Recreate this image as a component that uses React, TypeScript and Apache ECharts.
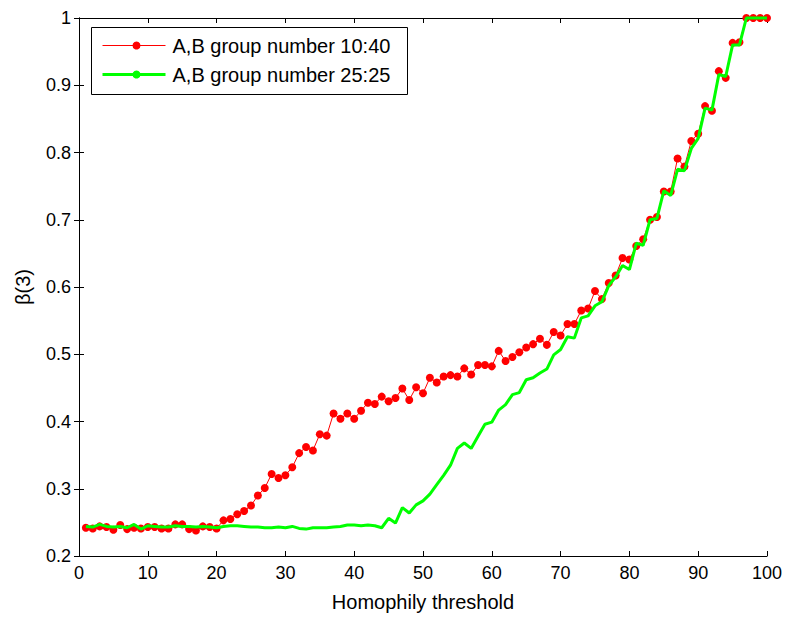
import React, { useEffect, useRef } from "react";
import * as echarts from "echarts";

const thresholds = [
  1, 2, 3, 4, 5, 6, 7, 8, 9, 10, 11, 12, 13, 14, 15, 16, 17, 18, 19, 20,
  21, 22, 23, 24, 25, 26, 27, 28, 29, 30, 31, 32, 33, 34, 35, 36, 37, 38, 39, 40,
  41, 42, 43, 44, 45, 46, 47, 48, 49, 50, 51, 52, 53, 54, 55, 56, 57, 58, 59, 60,
  61, 62, 63, 64, 65, 66, 67, 68, 69, 70, 71, 72, 73, 74, 75, 76, 77, 78, 79, 80,
  81, 82, 83, 84, 85, 86, 87, 88, 89, 90, 91, 92, 93, 94, 95, 96, 97, 98, 99, 100,
];

const group1040 = [
  0.242, 0.241, 0.244, 0.243, 0.239, 0.246, 0.24, 0.242, 0.241, 0.243,
  0.243, 0.241, 0.241, 0.247, 0.247, 0.24, 0.238, 0.244, 0.243, 0.241,
  0.253, 0.255, 0.262, 0.267, 0.275, 0.29, 0.301, 0.322, 0.316, 0.32,
  0.332, 0.353, 0.362, 0.357, 0.381, 0.379, 0.412, 0.404, 0.412, 0.404,
  0.416, 0.428, 0.426, 0.437, 0.43, 0.435, 0.449, 0.432, 0.451, 0.442,
  0.465, 0.458, 0.467, 0.469, 0.467, 0.479, 0.47, 0.484, 0.484, 0.482,
  0.505, 0.49, 0.496, 0.503, 0.51, 0.515, 0.523, 0.514, 0.533, 0.528,
  0.545, 0.545, 0.565, 0.568, 0.594, 0.582, 0.606, 0.617, 0.643, 0.641,
  0.661, 0.671, 0.7, 0.704, 0.742, 0.742, 0.791, 0.779, 0.817, 0.828,
  0.869, 0.862, 0.921, 0.911, 0.963, 0.964, 1.0, 1.0, 1.0, 1.0,
];

const group2525 = [
  0.244, 0.243, 0.247, 0.244, 0.243, 0.244, 0.242, 0.247, 0.24, 0.245,
  0.244, 0.243, 0.243, 0.245, 0.244, 0.244, 0.243, 0.244, 0.243, 0.242,
  0.244, 0.245, 0.245, 0.244, 0.243, 0.243, 0.242, 0.242, 0.243, 0.242,
  0.244, 0.241, 0.24, 0.242, 0.242, 0.242, 0.243, 0.244, 0.246, 0.246,
  0.245, 0.246, 0.245, 0.242, 0.256, 0.249, 0.272, 0.264, 0.276, 0.282,
  0.292, 0.306, 0.32, 0.335, 0.36, 0.368, 0.36, 0.378, 0.396, 0.399,
  0.417, 0.425, 0.44, 0.443, 0.462, 0.465, 0.472, 0.478, 0.499, 0.507,
  0.526, 0.524, 0.554, 0.557, 0.572, 0.578, 0.602, 0.615, 0.632, 0.626,
  0.665, 0.662, 0.7, 0.702, 0.743, 0.736, 0.775, 0.773, 0.806, 0.821,
  0.866, 0.863, 0.916, 0.913, 0.96, 0.96, 1.0, 1.0, 1.0, 1.0,
];

const seriesNames = ["A,B group number 10:40", "A,B group number 25:25"];
const FONT = "Liberation Sans, Arial, sans-serif";
const RED = "#ff0000";
const GREEN = "#00ff00";

export default function App() {
  const ref = useRef<HTMLDivElement>(null);

  useEffect(() => {
    if (!ref.current) return;
    const chart = echarts.init(ref.current, undefined, { renderer: "svg" });
    const axisLine = { show: true, lineStyle: { color: "#000", width: 1 } };
    const tick = { show: true, inside: true, length: 5, lineStyle: { color: "#000" } };
    const labelStyle = { color: "#000", fontFamily: FONT, fontSize: 18 };
    const fmtY = (v: number) => String(Number(v.toFixed(1)));

    chart.setOption({
      animation: false,
      backgroundColor: "#fff",
      grid: { left: 79, right: 20, top: 18, bottom: 57, containLabel: false },
      xAxis: [
        {
          type: "value", min: 0, max: 100, interval: 10, position: "bottom",
          axisLine, axisTick: tick, splitLine: { show: false },
          axisLabel: { ...labelStyle, margin: 8 },
          name: "Homophily threshold", nameLocation: "middle", nameGap: 36,
          nameTextStyle: { color: "#000", fontFamily: FONT, fontSize: 20 },
        },
        {
          type: "value", min: 0, max: 100, interval: 10, position: "top",
          axisLine, axisTick: tick, splitLine: { show: false }, axisLabel: { show: false },
        },
      ],
      yAxis: [
        {
          type: "value", min: 0.2, max: 1, interval: 0.1, position: "left",
          axisLine, axisTick: tick, splitLine: { show: false },
          axisLabel: { ...labelStyle, margin: 8, formatter: fmtY },
          name: "β(3)", nameLocation: "middle", nameGap: 46,
          nameTextStyle: { color: "#000", fontFamily: FONT, fontSize: 20 },
        },
        {
          type: "value", min: 0.2, max: 1, interval: 0.1, position: "right",
          axisLine, axisTick: tick, splitLine: { show: false }, axisLabel: { show: false },
        },
      ],
      series: [
        {
          name: seriesNames[0], type: "line", clip: false,
          data: thresholds.map((x, i) => [x, group1040[i]]),
          symbol: "circle", symbolSize: 8, showSymbol: true,
          lineStyle: { color: RED, width: 1 },
          itemStyle: { color: RED },
          z: 2,
        },
        {
          name: seriesNames[1], type: "line", clip: false,
          data: thresholds.map((x, i) => [x, group2525[i]]),
          symbol: "none", showSymbol: false,
          lineStyle: { color: GREEN, width: 3 },
          itemStyle: { color: GREEN },
          z: 3,
        },
      ],
      graphic: [
        {
          type: "group", left: 91, top: 27, z: 100,
          children: [
            { type: "rect", shape: { x: 0, y: 0, width: 316, height: 67 }, style: { fill: "#fff", stroke: "#000", lineWidth: 1 } },
            { type: "line", shape: { x1: 11, y1: 18, x2: 74, y2: 18 }, style: { stroke: RED, lineWidth: 1 } },
            { type: "circle", shape: { cx: 45, cy: 18, r: 4 }, style: { fill: RED } },
            { type: "text", x: 81, y: 18, style: { text: seriesNames[0], fill: "#000", font: `20px ${FONT}`, verticalAlign: "middle" } },
            { type: "line", shape: { x1: 11, y1: 47, x2: 74, y2: 47 }, style: { stroke: GREEN, lineWidth: 3 } },
            { type: "circle", shape: { cx: 45, cy: 47, r: 4 }, style: { fill: GREEN } },
            { type: "text", x: 81, y: 47, style: { text: seriesNames[1], fill: "#000", font: `20px ${FONT}`, verticalAlign: "middle" } },
          ],
        },
      ],
    });
    return () => chart.dispose();
  }, []);

  return <div ref={ref} style={{ position: "absolute", left: 0, top: 0, width: 787, height: 617 }} />;
}
